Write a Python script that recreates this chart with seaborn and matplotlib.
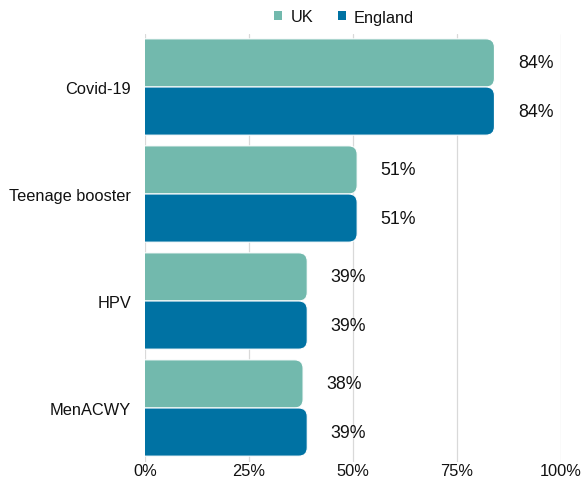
import matplotlib
matplotlib.use("Agg")
import matplotlib.pyplot as plt
import seaborn as sns
import pandas as pd
from matplotlib.patches import FancyBboxPatch, Patch

categories = ["Covid-19", "Teenage booster", "HPV", "MenACWY"]
uk_values = [84, 51, 39, 38]
england_values = [84, 51, 39, 39]
series = ["UK", "England"]
colors = {"UK": "#72b9ad", "England": "#0072a3"}
x_ticks = [0, 25, 50, 75, 100]
x_tick_labels = ["0%", "25%", "50%", "75%", "100%"]

df = pd.DataFrame({
    "category": categories * 2,
    "value": uk_values + england_values,
    "series": ["UK"] * len(categories) + ["England"] * len(categories),
})

sns.set_theme(style="white")
plt.rcParams["font.family"] = ["Liberation Sans", "DejaVu Sans"]

fig = plt.figure(figsize=(5.83, 4.81), dpi=100)
ax = fig.add_axes([145 / 583, 1 - 462.5 / 481, (561 - 145) / 583, (462.5 - 34.5) / 481])

sns.barplot(data=df, y="category", x="value", hue="series", order=categories,
            hue_order=series, palette=colors, orient="h", width=0.9, ax=ax,
            legend=False, saturation=1, linewidth=0)

ax.set_xlim(0, 100)
ax.set_xticks(x_ticks)
ax.set_xticklabels(x_tick_labels)
ax.set_xlabel("")
ax.set_ylabel("")
ax.grid(axis="x", color="#d9d9d9", linewidth=0.9)
ax.set_axisbelow(True)
for s in ax.spines.values():
    s.set_visible(False)
ax.tick_params(axis="both", length=0, labelsize=11.8, colors="#111111")
ax.tick_params(axis="x", pad=1)
ax.tick_params(axis="y", pad=10)

fig.canvas.draw()
# rounded right corners
inv = ax.transData.inverted()
p0 = inv.transform((0, 0))
p1 = inv.transform((1, 1))
dx_px = abs(p1[0] - p0[0])
dy_px = abs(p1[1] - p0[1])
r_px = 8.5
r_x = r_px * dx_px
aspect = dy_px / dx_px

patches = list(ax.patches)
for p in patches:
    x, y = p.get_x(), p.get_y()
    w, h = p.get_width(), p.get_height()
    if w <= 0:
        continue
    color = p.get_facecolor()
    p.remove()
    fb = FancyBboxPatch((x - 3 * r_x, y), w + 3 * r_x, h,
                        boxstyle=f"round,pad=0,rounding_size={r_x}",
                        mutation_aspect=aspect, facecolor=color,
                        edgecolor="white", linewidth=0.8, zorder=2)
    ax.add_patch(fb)
    ax.annotate(f"{int(w)}%", xy=(x + w, y + h / 2), xytext=(17, 0),
                textcoords="offset points", va="center", ha="left",
                fontsize=12.8, color="#111111")

handles = [Patch(facecolor=colors[s], edgecolor="none", label=s) for s in series]
fig.legend(handles=handles, loc="center", bbox_to_anchor=(344 / 583, 1 - 18 / 481),
           ncol=2, frameon=False, fontsize=11.8, handlelength=0.5, handleheight=0.5,
           handletextpad=0.5, columnspacing=1.5, labelcolor="#111111")

fig.savefig("out.png", dpi=100)
